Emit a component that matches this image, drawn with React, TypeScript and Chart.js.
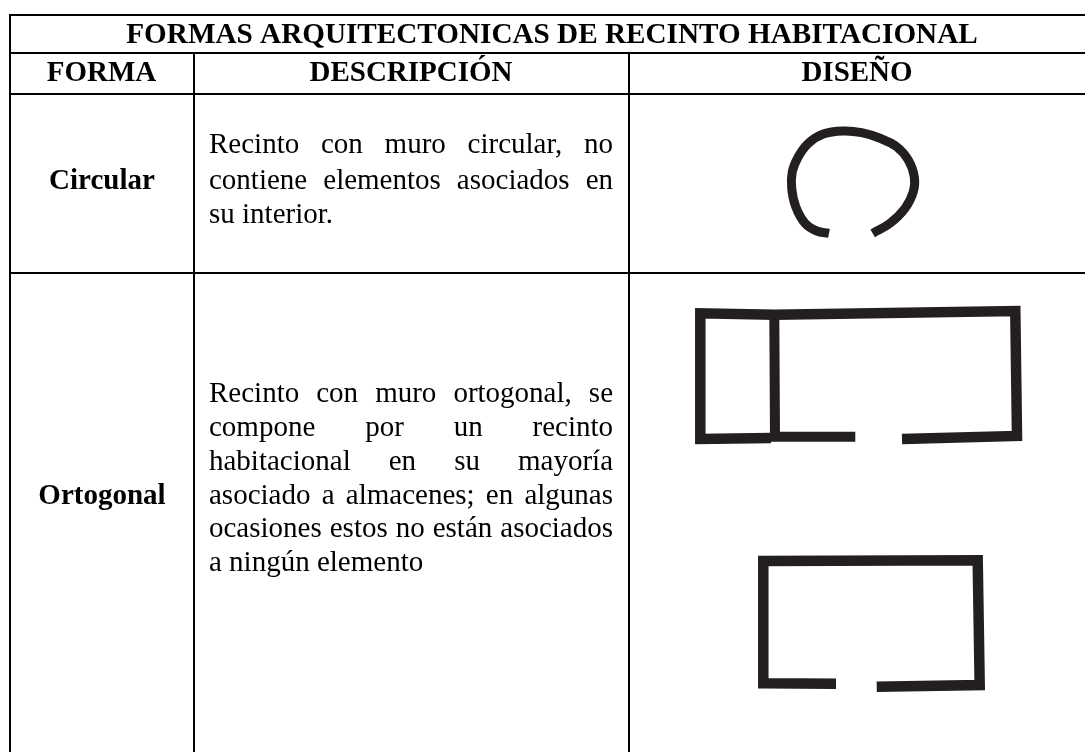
import React, { useEffect, useRef } from "react";
import { Chart, registerables } from "chart.js";

Chart.register(...registerables);

type Pt = { x: number; y: number };
const pts = (arr: number[][]): Pt[] => arr.map(([x, y]) => ({ x, y }));

// table text
const titleText = "FORMAS ARQUITECTONICAS DE RECINTO HABITACIONAL";
const headerLabels = ["FORMA", "DESCRIPCIÓN", "DISEÑO"];
const rowLabels = ["Circular", "Ortogonal"];
const circularLines = [
  "Recinto con muro circular, no",
  "contiene elementos asociados en",
  "su interior.",
];
const ortogonalLines = [
  "Recinto con muro ortogonal, se",
  "compone por un recinto",
  "habitacional en su mayoría",
  "asociado a almacenes; en algunas",
  "ocasiones estos no están asociados",
  "a ningún elemento",
];

// table rules
const gridLines = [
  [[9, 15], [1085, 15]],
  [[9, 53], [1085, 53]],
  [[9, 94], [1085, 94]],
  [[9, 273], [1085, 273]],
  [[10, 14], [10, 752]],
  [[194, 53], [194, 752]],
  [[629, 53], [629, 752]],
];

// drawings in the DISEÑO column
const circleWall = [
  [872.7, 233.3], [890, 223.3], [905, 208.3], [913.3, 191.7], [914.3, 176.7], [908.3, 160],
  [896.7, 146.7], [880, 138.3], [861.7, 132.7], [843.3, 131], [823.3, 134], [808.3, 143.3],
  [798.3, 156.7], [792.3, 171.7], [791.7, 188.3], [795.7, 206.7], [805, 223.3], [816.7, 231], [829, 233.3],
];
const planAOuter = [
  [855.3, 436.7], [775, 436.7], [774.3, 314.7],
];
const planATop = [
  [771, 438], [700.3, 439], [700.3, 313.3], [774.3, 314.7], [1015.3, 311], [1017, 436], [902, 439],
];
const planB = [
  [836, 683.7], [763.7, 683.3], [763.3, 561], [977.7, 560.3], [979.7, 685], [876.7, 686.7],
];

const BLACK = "#000000";
const WALL = "#231f20";
const SERIF = '"Liberation Serif", "Times New Roman", serif';

const textPlugin = {
  id: "tableText",
  afterDatasetsDraw(chart: any) {
    const { ctx, scales } = chart;
    const X = (v: number) => scales.x.getPixelForValue(v);
    const Y = (v: number) => scales.y.getPixelForValue(v);
    const centered = (s: string, cx: number, by: number, font: string) => {
      ctx.font = font;
      ctx.textAlign = "center";
      ctx.fillText(s, X(cx), Y(by));
    };
    const justified = (s: string, left: number, right: number, by: number, stretch: boolean) => {
      ctx.textAlign = "left";
      if (!stretch) {
        ctx.fillText(s, X(left), Y(by));
        return;
      }
      const words = s.split(" ");
      const total = words.reduce((a, w) => a + ctx.measureText(w).width, 0);
      const gap = (X(right) - X(left) - total) / (words.length - 1);
      let x = X(left);
      for (const w of words) {
        ctx.fillText(w, x, Y(by));
        x += ctx.measureText(w).width + gap;
      }
    };
    ctx.save();
    ctx.fillStyle = BLACK;
    ctx.textBaseline = "alphabetic";
    const bold = `bold 29px ${SERIF}`;
    const plain = `29px ${SERIF}`;
    centered(titleText, 552, 43, `bold 29.2px ${SERIF}`);
    centered(headerLabels[0], 101.5, 81, bold);
    centered(headerLabels[1], 411, 81, bold);
    centered(headerLabels[2], 857, 81, bold);
    centered(rowLabels[0], 102, 189, bold);
    centered(rowLabels[1], 102, 504, bold);
    ctx.font = plain;
    const c1 = [153, 189, 222.5];
    circularLines.forEach((s, i) => justified(s, 209, 613, c1[i], i < 2));
    const c2 = [401.5, 436, 470, 504, 537, 571];
    ortogonalLines.forEach((s, i) => justified(s, 209, 613, c2[i], i < 5));
    ctx.restore();
  },
};

const lineDs = (data: number[][], color: string, width: number, tension = 0) => ({
  data: pts(data),
  showLine: true,
  borderColor: color,
  backgroundColor: color,
  borderWidth: width,
  pointRadius: 0,
  tension,
  fill: false,
  borderCapStyle: "butt" as const,
  borderJoinStyle: "miter" as const,
});

export default function App() {
  const ref = useRef<HTMLCanvasElement>(null);
  useEffect(() => {
    const chart = new Chart(ref.current!, {
      type: "scatter",
      data: {
        datasets: [
          lineDs(circleWall, WALL, 9, 0.4),
          lineDs(planATop, WALL, 10.5),
          lineDs(planAOuter, WALL, 10),
          lineDs(planB, WALL, 10.5),
          ...gridLines.map((g) => lineDs(g, BLACK, 2)),
        ] as any,
      },
      options: {
        responsive: false,
        animation: false,
        layout: { padding: 0 },
        plugins: { legend: { display: false }, tooltip: { enabled: false }, title: { display: false } },
        scales: {
          x: { type: "linear", min: 0, max: 1085, display: false },
          y: { type: "linear", min: 0, max: 752, reverse: true, display: false },
        },
      },
      plugins: [textPlugin],
    });
    return () => chart.destroy();
  }, []);
  return (
    <div style={{ position: "absolute", left: 0, top: 0, width: 1085, height: 752, background: "#fff", overflow: "hidden" }}>
      <canvas ref={ref} width={1085} height={752} style={{ display: "block" }} />
    </div>
  );
}
